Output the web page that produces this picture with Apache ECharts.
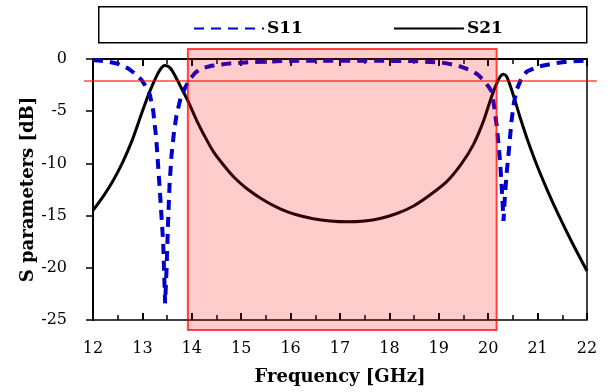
<!DOCTYPE html>
<html>
<head>
<meta charset="utf-8">
<script src="https://cdn.jsdelivr.net/npm/echarts@6/dist/echarts.min.js"></script>
<style>
html, body { margin: 0; padding: 0; background: #fff; }
#chart { width: 615px; height: 392px; }
</style>
</head>
<body>
<div id="chart"></div>
<script>
var s11Freq = [12.0, 12.3, 12.5, 12.71, 12.85, 12.98, 13.08, 13.15, 13.22, 13.28, 13.35, 13.42, 13.46, 13.49, 13.52, 13.55, 13.59, 13.64, 13.69, 13.77, 13.86, 13.95, 14.06, 14.17, 14.4, 14.77, 15.2, 15.8, 16.5, 17.5, 18.5, 19.0, 19.16, 19.4, 19.63, 19.78, 19.9, 20.0, 20.07, 20.12, 20.17, 20.21, 20.24, 20.28, 20.31, 20.34, 20.38, 20.41, 20.47, 20.52, 20.58, 20.67, 20.78, 21.0, 21.32, 21.6, 22.0];
var s11Db = [-0.1, -0.25, -0.45, -0.9, -1.4, -2.0, -2.7, -3.4, -5.0, -7.6, -12.4, -17.5, -23.4, -20.0, -15.6, -12.0, -9.2, -7.0, -5.4, -3.8, -2.8, -2.0, -1.37, -0.95, -0.65, -0.42, -0.3, -0.2, -0.16, -0.16, -0.2, -0.33, -0.42, -0.65, -1.05, -1.45, -2.0, -2.6, -3.1, -4.5, -6.3, -8.2, -9.8, -12.8, -15.5, -13.0, -10.6, -9.2, -6.0, -4.2, -2.9, -1.9, -1.2, -0.75, -0.42, -0.25, -0.15];

var s21Freq = [12.0, 12.2, 12.4, 12.6, 12.8, 13.0, 13.15, 13.27, 13.37, 13.45, 13.55, 13.65, 13.78, 13.92, 14.1, 14.25, 14.44, 14.65, 14.85, 15.11, 15.45, 15.79, 16.1, 16.46, 16.8, 17.14, 17.5, 17.81, 18.15, 18.48, 18.8, 19.16, 19.45, 19.7, 19.9, 20.04, 20.15, 20.24, 20.31, 20.37, 20.45, 20.55, 20.64, 20.8, 20.98, 21.2, 21.39, 21.7, 22.0];
var s21Db = [-14.5, -13.2, -11.7, -9.9, -7.7, -5.0, -3.1, -1.8, -0.95, -0.62, -0.8, -1.5, -2.7, -4.0, -5.9, -7.3, -8.9, -10.2, -11.3, -12.4, -13.5, -14.35, -14.9, -15.3, -15.52, -15.6, -15.52, -15.28, -14.8, -14.1, -13.1, -11.75, -10.1, -8.2, -6.0, -4.0, -2.6, -1.7, -1.45, -1.65, -2.6, -4.1, -5.5, -7.8, -10.1, -12.6, -14.6, -17.6, -20.3];

// passband highlight and limit line
var bandFreq = [13.92, 20.17];
var bandDb = [0.95, -25.95];
var limitFreq = [11.82, 22.2];
var limitDb = -2.1;

var seriesNames = ['S11', 'S21'];

function pairs(xs, ys) {
    var out = [];
    for (var i = 0; i < xs.length; i++) {
        out.push([xs[i], ys[i]]);
    }
    return out;
}

var serif = 'DejaVu Serif';
var myChart = echarts.init(document.getElementById('chart'));

myChart.setOption({
    animation: false,
    backgroundColor: '#fff',
    textStyle: { fontFamily: serif, color: '#000' },
    graphic: [{
        type: 'rect',
        left: 98, top: 6,
        shape: { width: 488, height: 36 },
        style: { fill: '#fff', stroke: '#000', lineWidth: 1.5 },
        z: -1
    }],
    legend: {
        data: seriesNames,
        left: 188, top: 15,
        itemWidth: 70, itemHeight: 12,
        itemGap: 90,
        selectedMode: false,
        itemStyle: { opacity: 0 },
        textStyle: { fontFamily: serif, fontWeight: 'bold', fontSize: 17, color: '#000', padding: [0, 0, 0, -2] }
    },
    grid: {
        left: 93, right: 28, top: 59, bottom: 72,
        show: true, borderColor: '#000', borderWidth: 1.5
    },
    xAxis: [{
        type: 'value', min: 12, max: 22, interval: 1,
        name: 'Frequency [GHz]', nameLocation: 'middle', nameGap: 48,
        nameTextStyle: { fontFamily: serif, fontWeight: 'bold', fontSize: 18, color: '#000' },
        axisLine: { lineStyle: { color: '#000', width: 2 } },
        axisTick: { length: 7, lineStyle: { color: '#000', width: 2 } },
        minorTick: { show: true, splitNumber: 2, length: 5, lineStyle: { color: '#000', width: 1.5 } },
        axisLabel: { fontFamily: serif, fontSize: 16, color: '#000', margin: 21 },
        splitLine: { show: false }
    }, {
        type: 'value', min: 12, max: 22, interval: 1, position: 'bottom',
        axisLine: { show: false },
        axisTick: { inside: true, length: 7, lineStyle: { color: '#000', width: 2 } },
        minorTick: { show: true, splitNumber: 2, length: 5, lineStyle: { color: '#000', width: 1.5 } },
        axisLabel: { show: false },
        splitLine: { show: false }
    }],
    yAxis: {
        type: 'value', min: -25, max: 0, interval: 5,
        name: 'S parameters [dB]', nameLocation: 'middle', nameGap: 56,
        nameMoveOverlap: false,
        nameTextStyle: { fontFamily: serif, fontWeight: 'bold', fontSize: 18, color: '#000' },
        axisLine: { lineStyle: { color: '#000', width: 2 } },
        axisTick: { length: 7, lineStyle: { color: '#000', width: 1.5 } },
        axisLabel: { fontFamily: serif, fontSize: 16, color: '#000', margin: 26 },
        splitLine: { show: false }
    },
    series: [{
        name: 'S11',
        type: 'line',
        data: pairs(s11Freq, s11Db),
        symbol: 'none',
        color: '#0000cc',
        lineStyle: { color: '#0000cc', width: 4, type: [10, 7] },
        z: 3
    }, {
        name: 'S21',
        type: 'line',
        data: pairs(s21Freq, s21Db),
        symbol: 'none',
        smooth: 0.3,
        color: '#000',
        lineStyle: { color: '#000', width: 3 },
        z: 2
    }, {
        type: 'custom',
        silent: true,
        clip: false,
        z: 5,
        data: [[bandFreq[0], bandDb[0]]],
        renderItem: function (params, api) {
            var p0 = api.coord([bandFreq[0], bandDb[0]]);
            var p1 = api.coord([bandFreq[1], bandDb[1]]);
            var l0 = api.coord([limitFreq[0], limitDb]);
            var l1 = api.coord([limitFreq[1], limitDb]);
            return {
                type: 'group',
                children: [{
                    type: 'rect',
                    shape: { x: p0[0], y: p0[1], width: p1[0] - p0[0], height: p1[1] - p0[1] },
                    style: { fill: 'rgba(255,0,0,0.2)', stroke: 'rgba(255,0,0,0.72)', lineWidth: 2 }
                }, {
                    type: 'line',
                    shape: { x1: l0[0], y1: l0[1], x2: l1[0], y2: l1[1] },
                    style: { stroke: 'rgba(255,0,0,0.72)', lineWidth: 1.5 }
                }]
            };
        }
    }]
});

window.onresize = function () {
    myChart.resize();
};
</script>
</body>
</html>
